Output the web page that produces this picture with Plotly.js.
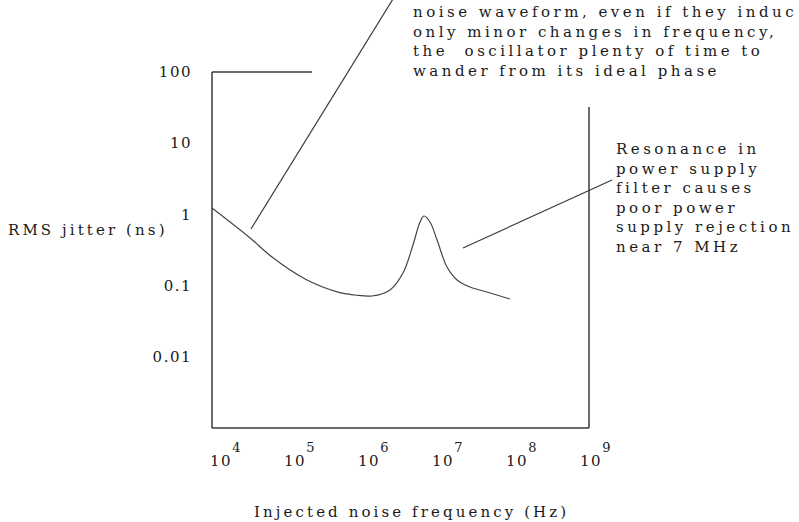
<!DOCTYPE html>
<html>
<head>
<meta charset="utf-8">
<script src="https://cdn.plot.ly/plotly-3.0.1.min.js"></script>
<style>
  html, body { margin: 0; padding: 0; background: #fff; }
  #chart { width: 799px; height: 522px; }
  .annotation-text { letter-spacing: 3.5px; }
  .xtick text, .ytick text { letter-spacing: 1.5px; }
</style>
</head>
<body>
<div id="chart"></div>
<script>
// Injected noise frequency (Hz)
const freqHz = [1e4, 3.27e4, 6.47e4, 1.81e5, 5.05e5, 8.55e5, 1.45e6, 2.54e6, 3.81e6, 5.2e6,
                6.47e6, 7.33e6, 8.83e6, 1.1e7, 1.5e7, 2.05e7, 3.06e7, 5.2e7, 1.06e8];
// RMS jitter (ns)
const jitterNs = [1.23, 0.467, 0.252, 0.124, 0.081, 0.0738, 0.0714, 0.0867, 0.150, 0.372,
                  0.782, 0.95, 0.782, 0.437, 0.182, 0.120, 0.0955, 0.0813, 0.0648];

const xTickVals = [1e4, 1e5, 1e6, 1e7, 1e8, 1e9];
const xTickExp = ['4', '5', '6', '7', '8', '9'];
const yTickVals = [0.01, 0.1, 1, 10, 100];
const yTickText = ['0.01', '0.1', '1', '10', '100'];

const xTitle = 'Injected noise frequency (Hz)';
const yTitle = 'RMS jitter (ns)';
const noteTop = ['noise waveform, even if they induc', 'only minor changes in frequency,', 'the  oscillator plenty of time to', 'wander from its ideal phase'];
const noteRight = ['Resonance in', 'power supply', 'filter causes', 'poor power', 'supply rejection', 'near 7 MHz'];

const FONT = 'DejaVu Serif, Liberation Serif, serif';
const INK = '#1a1a1a';
const LINE = '#3a3a3a';

// pixel helpers for frame/annotation placement (plot area 212..589 x 72..428)
const L = 212, R = 589, T = 72, B = 428;
const px = v => (v - L) / (R - L);
const py = v => (B - v) / (B - T);

const xTickText = xTickExp.map(e => '10<sup><span style="font-size:13px;baseline-shift:8px">' + e + '</span></sup>');

const trace = {
  x: freqHz, y: jitterNs, type: 'scatter', mode: 'lines',
  line: { color: '#444', width: 1.2, shape: 'spline', smoothing: 1 },
  hoverinfo: 'x+y', showlegend: false
};

const titleSpan = t => '<span style="letter-spacing:3.1px">' + t + '</span>';

const layout = {
  width: 799, height: 522,
  margin: { l: L, r: 799 - R, t: T, b: 522 - B, pad: 0 },
  paper_bgcolor: '#fff', plot_bgcolor: '#fff',
  font: { family: FONT, size: 15, color: INK },
  showlegend: false,
  xaxis: {
    type: 'log', range: [4, 4 + (R - L) / 74],
    tickvals: xTickVals, ticktext: xTickText,
    ticks: '', showgrid: false, zeroline: false, showline: false,
    ticklabelshift: 14, ticklabelstandoff: 22,
    tickfont: { family: FONT, size: 15, color: INK },
    fixedrange: true
  },
  yaxis: {
    type: 'log', range: [-3, 2],
    tickvals: yTickVals, ticktext: yTickText,
    ticks: '', showgrid: false, zeroline: false, showline: false,
    ticklabelstandoff: 19,
    tickfont: { family: FONT, size: 15, color: INK },
    fixedrange: true
  },
  shapes: [
    // frame (broken, as in the scanned original)
    { type: 'line', xref: 'paper', yref: 'paper', x0: 0, x1: 0, y0: 0, y1: 1, line: { color: LINE, width: 1.5 } },
    { type: 'line', xref: 'paper', yref: 'paper', x0: 0, x1: 1, y0: 0, y1: 0, line: { color: LINE, width: 1.5 } },
    { type: 'line', xref: 'paper', yref: 'paper', x0: 1, x1: 1, y0: 0, y1: py(107), line: { color: LINE, width: 1.5 } },
    { type: 'line', xref: 'paper', yref: 'paper', x0: 0, x1: px(312), y0: 1, y1: 1, line: { color: LINE, width: 1.5 } },
    // leader lines
    { type: 'line', xref: 'paper', yref: 'paper', x0: px(251), y0: py(229), x1: px(393), y1: py(-1), line: { color: LINE, width: 1.2 } },
    { type: 'line', xref: 'paper', yref: 'paper', x0: px(463), y0: py(248), x1: px(612), y1: py(180), line: { color: LINE, width: 1.2 } }
  ],
  annotations: [
    { xref: 'paper', yref: 'paper', x: px(412), y: py(41.5), xanchor: 'left', yanchor: 'middle', align: 'left',
      text: noteTop.join('<br>'), showarrow: false, borderpad: 0, font: { family: FONT, size: 15, color: INK } },
    { xref: 'paper', yref: 'paper', x: px(615), y: py(198), xanchor: 'left', yanchor: 'middle', align: 'left',
      text: noteRight.join('<br>'), showarrow: false, borderpad: 0, font: { family: FONT, size: 15, color: INK } },
    { xref: 'paper', yref: 'paper', x: px(169), y: py(230), xanchor: 'right', yanchor: 'middle',
      text: titleSpan(yTitle), showarrow: false, borderpad: 0, font: { family: FONT, size: 15, color: INK } },
    { xref: 'paper', yref: 'paper', x: px(411), y: py(512), xanchor: 'center', yanchor: 'middle',
      text: titleSpan(xTitle), showarrow: false, borderpad: 0, font: { family: FONT, size: 15, color: INK } }
  ]
};

Plotly.newPlot('chart', [trace], layout, { displayModeBar: false, staticPlot: true });
</script>
</body>
</html>
